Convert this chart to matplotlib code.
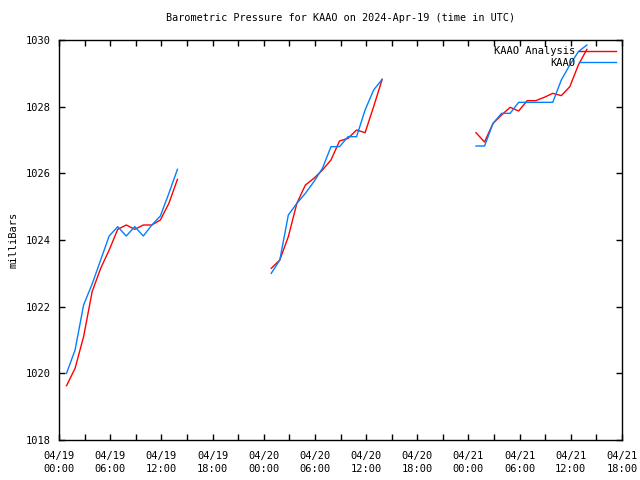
import numpy as np
from matplotlib import pyplot as plt

# hours since 2024-04-19 00:00 UTC (obs at :53 past each hour), NaN = gap
hours = [h + 53 / 60 for h in range(0, 14)] + [np.nan] + \
        [h + 53 / 60 for h in range(24, 38)] + [np.nan] + \
        [h + 53 / 60 for h in range(48, 62)]

analysis = [1019.63, 1020.15, 1021.1, 1022.45, 1023.15, 1023.7, 1024.32,
            1024.45, 1024.32, 1024.45, 1024.45, 1024.6, 1025.1, 1025.82,
            np.nan,
            1023.15, 1023.4, 1024.1, 1025.1, 1025.65, 1025.85, 1026.1,
            1026.4, 1026.97, 1027.05, 1027.3, 1027.22, 1028.0, 1028.82,
            np.nan,
            1027.22, 1026.94, 1027.5, 1027.75, 1027.98, 1027.87, 1028.18,
            1028.18, 1028.28, 1028.4, 1028.33, 1028.6, 1029.25, 1029.72]

kaao = [1020.0, 1020.7, 1022.05, 1022.68, 1023.4, 1024.12, 1024.4,
        1024.12, 1024.4, 1024.12, 1024.45, 1024.72, 1025.4, 1026.12,
        np.nan,
        1023.0, 1023.4, 1024.75, 1025.1, 1025.4, 1025.75, 1026.15,
        1026.8, 1026.8, 1027.1, 1027.1, 1027.9, 1028.5, 1028.82,
        np.nan,
        1026.82, 1026.82, 1027.5, 1027.8, 1027.8, 1028.13, 1028.13,
        1028.13, 1028.13, 1028.13, 1028.8, 1029.25, 1029.65, 1029.85]

tick_hours = list(range(0, 67, 6))
tick_labels = ['04/19\n00:00', '04/19\n06:00', '04/19\n12:00', '04/19\n18:00',
               '04/20\n00:00', '04/20\n06:00', '04/20\n12:00', '04/20\n18:00',
               '04/21\n00:00', '04/21\n06:00', '04/21\n12:00', '04/21\n18:00']

plt.rcParams['font.family'] = 'DejaVu Sans Mono'
plt.rcParams['font.size'] = 7.5

fig = plt.figure(figsize=(6.4, 4.8), dpi=100)
ax = fig.add_axes([59 / 640, 40 / 480, 563 / 640, 400 / 480])

ax.plot(hours, analysis, color='#ff0000', lw=1, label='KAAO Analysis')
ax.plot(hours, kaao, color='#0080ff', lw=1, label='KAAO')

ax.set_xlim(0, 66)
ax.set_ylim(1018, 1030)
ax.set_xticks(tick_hours)
ax.set_xticklabels(tick_labels, linespacing=1.3)
ax.set_xticks(range(3, 66, 6), minor=True)
ax.set_yticks(range(1018, 1031, 2))
ax.tick_params(which='both', direction='in', top=True, right=True,
               length=4, width=1)
ax.tick_params(axis='x', pad=8)
ax.tick_params(axis='y', pad=6)
for s in ax.spines.values():
    s.set_linewidth(1)

ax.set_ylabel('milliBars', labelpad=5)
ax.set_title('Barometric Pressure for KAAO on 2024-Apr-19 (time in UTC)',
             fontsize=7.3, pad=14)
ax.legend(loc='upper right', frameon=False, markerfirst=False,
          handlelength=3.5, borderaxespad=0.2, labelspacing=0.15,
          handletextpad=0.4)

plt.savefig('out.png')
